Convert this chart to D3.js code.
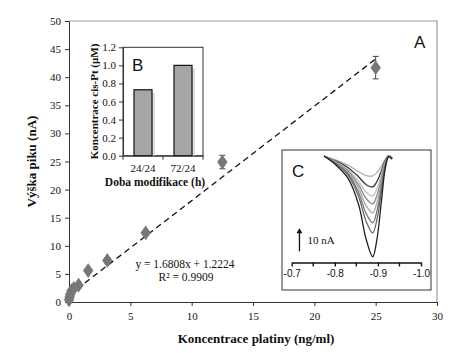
<!DOCTYPE html>
<html>
<head>
<meta charset="utf-8">
<script src="https://cdn.jsdelivr.net/npm/d3@7"></script>
<style>
body{margin:0;background:#fff;}
svg text{fill:#111;}
.axis path,.axis line{stroke:#333;}
</style>
</head>
<body>
<svg id="chart" width="474" height="353"></svg>
<script>
const SERIF = '"Liberation Serif","Times New Roman",serif';
const SANS = '"Liberation Sans",Arial,sans-serif';

// main calibration data
let conc = [0, 0.05, 0.1, 0.2, 0.39, 0.78, 1.56, 3.125, 6.25, 12.5, 25];
let peak = [0.4, 0.9, 1.4, 2.0, 2.4, 3.0, 5.6, 7.4, 12.3, 24.9, 41.7];
let peakErr = [0.2, 0.2, 0.2, 0.2, 0.2, 0.3, 0.3, 0.4, 0.4, 1.2, 2.0];
let xTicks = [0, 5, 10, 15, 20, 25, 30];
let yTicks = [0, 5, 10, 15, 20, 25, 30, 35, 40, 45, 50];
let slope = 1.6808, intercept = 1.2224;

// inset B
let modCats = ['24/24', '72/24'];
let modVals = [0.73, 1.0];
let bTicks = [0, 0.2, 0.4, 0.6, 0.8, 1.0, 1.2];

// inset C voltammograms
let potential = [-0.775, -0.80, -0.83, -0.855, -0.873, -0.888, -0.898, -0.908, -0.917, -0.925, -0.933];
let scan1 = [0, -1.6, -4.0, -6.8, -8.5, -8.7, -7.2, -4.5, -1.5, 0.2, -0.6];
let scan2 = [0, -2.0, -5.0, -9.0, -12.5, -13.5, -11.0, -6.5, -2.0, 0.2, -0.8];
let scan3 = [0, -2.3, -5.8, -11.0, -15.8, -17.4, -14.2, -8.2, -2.5, 0.1, -0.9];
let scan4 = [0, -2.5, -6.4, -12.5, -18.6, -20.9, -17.0, -9.8, -3.0, 0.0, -1.0];
let scan5 = [0, -2.7, -7.0, -14.0, -21.8, -24.8, -20.2, -11.5, -3.4, 0.0, -1.0];
let scan6 = [0, -2.9, -7.6, -15.8, -25.2, -29.1, -23.8, -13.4, -3.9, -0.1, -1.1];
let scan7 = [0, -3.1, -8.2, -17.5, -28.6, -33.5, -27.5, -15.5, -4.4, -0.2, -1.2];
let scan8 = [0, -3.5, -9.5, -21.0, -36.5, -43.9, -36.0, -20.0, -5.5, -0.4, -1.4];
let scans = [scan1, scan2, scan3, scan4, scan5, scan6, scan7, scan8];
let scanColors = ['#b0b0b0', '#3a3a3a', '#c0c0c0', '#8a8a8a', '#a8a8a8', '#777', '#666', '#222'];
let cMajor = [-0.7, -0.8, -0.9, -1.0];
let cMinor = [-0.75, -0.85, -0.95];

let svg = d3.select('#chart');

// ---- main chart
let x = d3.scaleLinear().domain([0, 30]).range([69, 437]);
let y = d3.scaleLinear().domain([0, 50]).range([302, 21]);

// frame top/right
svg.append('path').attr('d', 'M' + x(0) + ',' + y(50) + 'H' + x(30) + 'V' + y(0))
    .attr('fill', 'none').attr('stroke', '#999').attr('stroke-width', 1.2);

svg.append('g').attr('class', 'axis').attr('transform', 'translate(0,' + y(0) + ')')
    .call(d3.axisBottom(x).tickValues(xTicks).tickSize(4).tickSizeOuter(0).tickPadding(6))
    .attr('font-family', SERIF).attr('font-size', 11);
svg.append('g').attr('class', 'axis').attr('transform', 'translate(' + x(0) + ',0)')
    .call(d3.axisLeft(y).tickValues(yTicks).tickSize(4).tickSizeOuter(0).tickPadding(4))
    .attr('font-family', SERIF).attr('font-size', 11);

svg.append('text').attr('font-family', SERIF).attr('font-weight', 'bold').attr('font-size', 13)
    .attr('x', 256).attr('y', 343).attr('text-anchor', 'middle').text('Koncentrace platiny (ng/ml)');
svg.append('text').attr('font-family', SERIF).attr('font-weight', 'bold').attr('font-size', 13)
    .attr('transform', 'translate(36,' + ((y(0) + y(50)) / 2) + ') rotate(-90)')
    .attr('text-anchor', 'middle').text('Výška piku (nA)');

// trend line
svg.append('line').attr('x1', x(0)).attr('y1', y(intercept))
    .attr('x2', x(25)).attr('y2', y(slope * 25 + intercept))
    .attr('stroke', '#111').attr('stroke-width', 1.3).attr('stroke-dasharray', '6,4');

// error bars
let pts = conc.map((c, i) => ({c: c, v: peak[i], e: peakErr[i]}));
let eb = svg.append('g').attr('stroke', '#444').attr('stroke-width', 1);
pts.forEach(function(d){
    eb.append('line').attr('x1', x(d.c)).attr('x2', x(d.c)).attr('y1', y(d.v - d.e)).attr('y2', y(d.v + d.e));
    eb.append('line').attr('x1', x(d.c) - 3).attr('x2', x(d.c) + 3).attr('y1', y(d.v - d.e)).attr('y2', y(d.v - d.e));
    eb.append('line').attr('x1', x(d.c) - 3).attr('x2', x(d.c) + 3).attr('y1', y(d.v + d.e)).attr('y2', y(d.v + d.e));
});

svg.selectAll('.pt').data(pts).enter().append('path')
    .attr('class', 'pt')
    .attr('d', d3.symbol().type(d3.symbolDiamond).size(70))
    .attr('transform', d => 'translate(' + x(d.c) + ',' + y(d.v) + ') scale(1.15,0.95)')
    .attr('fill', '#777');

svg.append('text').attr('font-family', SERIF).attr('x', 185).attr('y', 268).attr('text-anchor', 'middle').attr('font-size', 11.5)
    .text('y = 1.6808x + 1.2224');
svg.append('text').attr('font-family', SERIF).attr('x', 186).attr('y', 281).attr('text-anchor', 'middle').attr('font-size', 11.5)
    .text('R² = 0.9909');

svg.append('text').attr('font-family', SANS).attr('font-size', 17).attr('x', 414).attr('y', 48).text('A');

// ---- inset B
let bx = d3.scaleBand().domain(modCats).range([123, 203]).paddingInner(0.55).paddingOuter(0.275);
let by = d3.scaleLinear().domain([0, 1.2]).range([155.7, 47.3]);

svg.append('rect').attr('x', 123).attr('y', by(1.2)).attr('width', 80).attr('height', by(0) - by(1.2))
    .attr('fill', '#fff').attr('stroke', '#333').attr('stroke-width', 1);

// bar shadows then bars
svg.selectAll('.bshadow').data(modVals).enter().append('rect')
    .attr('x', (d, i) => bx(modCats[i]) + 3).attr('y', d => by(d) + 3)
    .attr('width', bx.bandwidth()).attr('height', d => by(0) - by(d) - 3)
    .attr('fill', '#ddd');
svg.selectAll('.bar').data(modVals).enter().append('rect')
    .attr('x', (d, i) => bx(modCats[i])).attr('y', d => by(d))
    .attr('width', bx.bandwidth()).attr('height', d => by(0) - by(d))
    .attr('fill', '#a6a6a6').attr('stroke', '#111').attr('stroke-width', 1.2);

svg.append('g').attr('class', 'axis').attr('transform', 'translate(0,' + by(0) + ')')
    .call(d3.axisBottom(bx).tickSize(0).tickPadding(9))
    .attr('font-family', SERIF).attr('font-size', 11);
// category boundary ticks
svg.append('g').attr('stroke', '#333').selectAll('line').data([123, 163, 203]).enter().append('line')
    .attr('x1', d => d).attr('x2', d => d).attr('y1', by(0)).attr('y2', by(0) + 4);
svg.append('g').attr('class', 'axis').attr('transform', 'translate(123,0)')
    .call(d3.axisLeft(by).tickValues(bTicks).tickFormat(d3.format('.1f')).tickSize(4).tickSizeOuter(0).tickPadding(3))
    .attr('font-family', SERIF).attr('font-size', 11);

svg.append('text').attr('font-family', SERIF).attr('font-weight', 'bold').attr('font-size', 11.5)
    .attr('x', 155).attr('y', 186).attr('text-anchor', 'middle').text('Doba modifikace (h)');
svg.append('text').attr('font-family', SERIF).attr('font-weight', 'bold').attr('font-size', 11)
    .attr('transform', 'translate(98,' + ((by(0) + by(1.2)) / 2) + ') rotate(-90)')
    .attr('text-anchor', 'middle').text('Koncentrace  cis-Pt (μM)');
svg.append('text').attr('font-family', SANS).attr('font-size', 17).attr('x', 132).attr('y', 71).text('B');

// ---- inset C
svg.append('rect').attr('x', 282).attr('y', 150).attr('width', 149).attr('height', 140)
    .attr('fill', '#fff').attr('stroke', '#333').attr('stroke-width', 1);

let cx = d3.scaleLinear().domain([-0.7, -1.0]).range([291.7, 421]);
let cy = d3.scaleLinear().domain([0, -44]).range([156, 257]);

let cline = d3.line().x((d, i) => cx(potential[i])).y(d => cy(d)).curve(d3.curveCatmullRom.alpha(0.5));
svg.append('g').selectAll('path').data(scans).enter().append('path')
    .attr('d', cline).attr('fill', 'none')
    .attr('stroke', (d, i) => scanColors[i]).attr('stroke-width', 1.3);

let cAxis = svg.append('g').attr('transform', 'translate(0,262.5)');
cAxis.call(d3.axisBottom(cx).tickValues(cMajor).tickFormat(d => d.toFixed(1)).tickSize(4).tickSizeOuter(0).tickPadding(3))
    .attr('font-family', SANS).attr('font-size', 10);
cAxis.append('g').selectAll('line').data(cMinor).enter().append('line')
    .attr('x1', d => cx(d)).attr('x2', d => cx(d)).attr('y1', 0).attr('y2', 4);
cAxis.selectAll('path,line').attr('stroke', '#111').attr('stroke-width', 1.4);

// 10 nA scale arrow
let arrowX = cx(-0.718);
svg.append('line').attr('x1', arrowX).attr('x2', arrowX).attr('y1', cy(-41.5)).attr('y2', cy(-31.5) + 4)
    .attr('stroke', '#111').attr('stroke-width', 1.3);
svg.append('path').attr('d', 'M' + (arrowX - 3) + ',' + (cy(-31.5) + 5) + 'L' + arrowX + ',' + cy(-31.5) + 'L' + (arrowX + 3) + ',' + (cy(-31.5) + 5) + 'Z')
    .attr('fill', '#111');
svg.append('text').attr('font-family', SERIF).attr('x', arrowX + 8).attr('y', cy(-36.5) + 4).attr('font-size', 11).text('10 nA');

svg.append('text').attr('font-family', SANS).attr('font-size', 17).attr('x', 292).attr('y', 177).text('C');
</script>
</body>
</html>
